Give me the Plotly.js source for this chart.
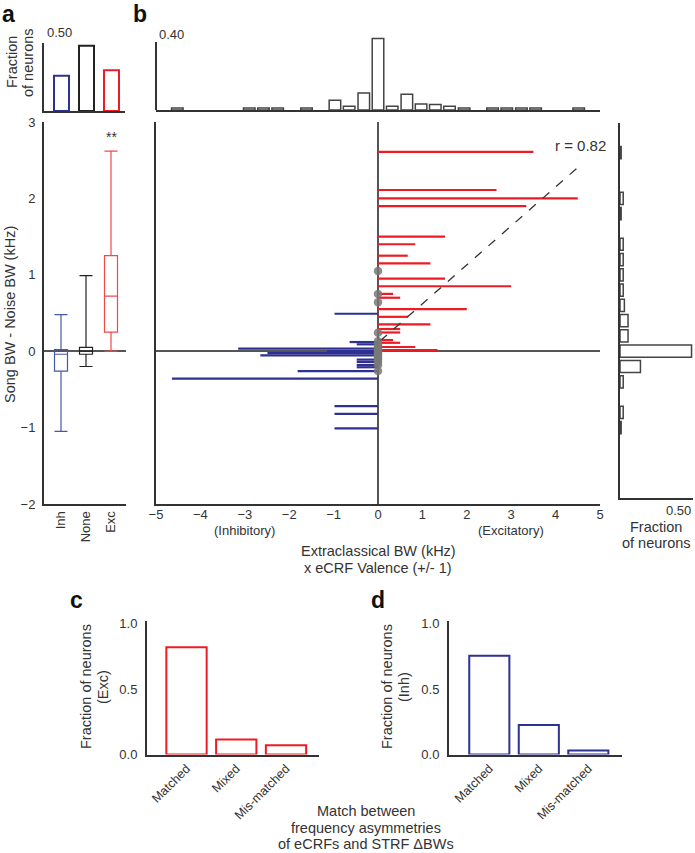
<!DOCTYPE html>
<html><head><meta charset="utf-8">
<script src="https://cdn.plot.ly/plotly-3.0.1.min.js"></script>
<style>html,body{margin:0;padding:0;background:#fff}#chart{width:695px;height:853px}</style>
</head><body><div id="chart"></div>
<script>
// ---------- data ----------
const groupLabels = ['Inh', 'None', 'Exc'];
const groupFraction = [0.26, 0.48, 0.30];
const boxLower  = [-1.05, -0.20, 0.00];
const boxQ1     = [-0.26, -0.04, 0.25];
const boxMedian = [-0.04,  0.00, 0.72];
const boxQ3     = [ 0.02,  0.05, 1.25];
const boxUpper  = [ 0.48,  0.99, 2.62];

const excBW       = [3.50, 2.67, 4.50, 3.34, 1.51, 0.84, 0.67, 1.18, 1.51, 3.00, 0.34, 0.50, 2.00, 0.68, 1.18, 0.50, 0.50, 0.34, 0.50, 0.84, 1.34];
const excSongDiff = [2.61, 2.11, 2.00, 1.90, 1.50, 1.40, 1.25, 1.15, 0.95, 0.85, 0.75, 0.70, 0.55, 0.45, 0.35, 0.29, 0.245, 0.145, 0.11, 0.055, 0.015];
const inhBW       = [-0.98, -0.64, -0.48, -3.15, -1.15, -2.49, -2.65, -0.48, -0.48, -0.48, -0.48, -1.81, -4.64, -0.98, -0.98, -0.98];
const inhSongDiff = [0.49, 0.12, 0.09, 0.035, 0.00, -0.025, -0.055, -0.11, -0.14, -0.18, -0.21, -0.26, -0.36, -0.72, -0.82, -1.01];
const noneSongDiff = [1.05, 0.75, 0.64, 0.24, 0.13, 0.09, 0.06, 0.03, 0.01, -0.01, -0.03, -0.05, -0.08, -0.11, -0.14, -0.18, -0.26];
const fitSlope = 0.51, fitIntercept = 0.11;
const fitXRange = [0.05, 4.5];
const rText = 'r = 0.82';

const topHistCenters  = [-4.52, -2.90, -2.58, -2.26, -1.61, -0.97, -0.65, -0.32, 0.00, 0.32, 0.65, 0.97, 1.29, 1.61, 1.94, 2.58, 2.90, 3.23, 3.55, 4.52];
const topHistFraction = [0.012, 0.012, 0.012, 0.012, 0.012, 0.057, 0.022, 0.10, 0.42, 0.022, 0.092, 0.035, 0.033, 0.022, 0.012, 0.012, 0.012, 0.012, 0.012, 0.012];

const rightHistCenters  = [2.6, 2.0, 1.8, 1.4, 1.2, 1.0, 0.8, 0.6, 0.4, 0.2, 0.0, -0.2, -0.4, -0.8, -1.0];
const rightHistFraction = [0.008, 0.022, 0.008, 0.022, 0.022, 0.022, 0.022, 0.03, 0.055, 0.055, 0.49, 0.14, 0.022, 0.022, 0.008];

const matchCategories = ['Matched', 'Mixed', 'Mis-matched'];
const excMatchFraction = [0.82, 0.115, 0.07];
const inhMatchFraction = [0.755, 0.225, 0.03];

// ---------- styling ----------
const W = 695, H = 853;
const fx = p => p / W, fy = p => 1 - p / H;
const FONT = 'Liberation Sans, Arial, Helvetica, sans-serif';
const RED = '#ed1c24', BLUE = '#2e3192', BOXRED = '#ef4a4a', BOXBLUE = '#4458a8', AX = '#333';
const TXT = '#333';

function baseAxis(extra) {
  return Object.assign({showgrid: false, zeroline: false, showline: true, linecolor: AX, linewidth: 2,
    ticks: '', showticklabels: false, fixedrange: true, tickfont: {family: FONT, size: 13, color: TXT}}, extra);
}

const traces = [];
// a: top bars
traces.push({type: 'bar', x: groupLabels, y: groupFraction, xaxis: 'x', yaxis: 'y', width: 0.6,
  marker: {color: 'white', line: {color: [BLUE, '#222', RED], width: 2}}, hoverinfo: 'skip'});
// a: boxes
const boxColors = [BOXBLUE, '#222', BOXRED];
groupLabels.forEach((g, i) => {
  traces.push({type: 'box', x: [g], q1: [boxQ1[i]], median: [boxMedian[i]], q3: [boxQ3[i]],
    lowerfence: [boxLower[i]], upperfence: [boxUpper[i]], xaxis: 'x2', yaxis: 'y2',
    width: 0.52, whiskerwidth: 1, boxpoints: false, fillcolor: 'rgba(0,0,0,0)',
    line: {color: boxColors[i], width: 1.2}, hoverinfo: 'skip'});
});
// b: top histogram
traces.push({type: 'bar', x: topHistCenters, y: topHistFraction, xaxis: 'x3', yaxis: 'y3', width: 0.26,
  marker: {color: 'white', line: {color: '#444', width: 1.5}}, hoverinfo: 'skip'});
// b: main horizontal bars
function segs(xs, ys) {
  const X = [], Y = [];
  xs.forEach((v, i) => { X.push(0, v, null); Y.push(ys[i], ys[i], null); });
  return {X, Y};
}
const rs = segs(excBW, excSongDiff), bs = segs(inhBW, inhSongDiff);
traces.push({type: 'scatter', mode: 'lines', x: rs.X, y: rs.Y, xaxis: 'x4', yaxis: 'y4',
  line: {color: RED, width: 2.2}, hoverinfo: 'skip'});
traces.push({type: 'scatter', mode: 'lines', x: bs.X, y: bs.Y, xaxis: 'x4', yaxis: 'y4',
  line: {color: BLUE, width: 2.2}, hoverinfo: 'skip'});
traces.push({type: 'scatter', mode: 'lines', x: fitXRange, y: fitXRange.map(v => fitIntercept + fitSlope * v),
  xaxis: 'x4', yaxis: 'y4', line: {color: '#333', width: 1.3, dash: 'dash'}, hoverinfo: 'skip'});
traces.push({type: 'scatter', mode: 'markers', x: noneSongDiff.map(() => 0), y: noneSongDiff, xaxis: 'x4', yaxis: 'y4',
  marker: {size: 8.5, color: 'rgba(120,120,120,0.85)'}, hoverinfo: 'skip', cliponaxis: false});
// b: right histogram
traces.push({type: 'bar', orientation: 'h', y: rightHistCenters, x: rightHistFraction, xaxis: 'x5', yaxis: 'y5',
  width: 0.16, cliponaxis: false, marker: {color: 'white', line: {color: '#444', width: 1.5}}, hoverinfo: 'skip'});
// c, d
traces.push({type: 'bar', x: matchCategories, y: excMatchFraction, xaxis: 'x6', yaxis: 'y6', width: 0.81,
  marker: {color: 'white', line: {color: RED, width: 2}}, hoverinfo: 'skip'});
traces.push({type: 'bar', x: matchCategories, y: inhMatchFraction, xaxis: 'x7', yaxis: 'y7', width: 0.81,
  marker: {color: 'white', line: {color: BLUE, width: 2}}, hoverinfo: 'skip'});

const topHistMax = 0.43;   // axis headroom so the tallest bin is not clipped
const layout = {
  width: W, height: H, margin: {l: 0, r: 0, t: 0, b: 0}, showlegend: false,
  paper_bgcolor: 'white', plot_bgcolor: 'white', font: {family: FONT, color: TXT},
  xaxis: baseAxis({domain: [fx(44), fx(125)], anchor: 'y', type: 'category', categoryarray: groupLabels, range: [-0.7, 2.54]}),
  yaxis: baseAxis({domain: [fy(111), fy(43)], anchor: 'x', range: [0, 0.5]}),
  xaxis2: baseAxis({domain: [fx(44), fx(126)], anchor: 'y2', type: 'category', categoryarray: groupLabels, range: [-0.68, 2.6],
    showticklabels: true, tickangle: -90}),
  yaxis2: baseAxis({domain: [fy(504), fy(122)], anchor: 'x2', range: [-2, 3], showticklabels: true,
    tickvals: [-2, -1, 0, 1, 2, 3], ticklabelstandoff: 4, zeroline: true, zerolinecolor: '#555', zerolinewidth: 1.5}),
  xaxis3: baseAxis({domain: [fx(156), fx(600)], anchor: 'y3', range: [-5, 5]}),
  yaxis3: baseAxis({domain: [fy(110), fy(110 - 170 * topHistMax)], anchor: 'x3', range: [0, topHistMax], showline: false}),
  xaxis4: baseAxis({domain: [fx(156), fx(600)], anchor: 'y4', range: [-5, 5], showticklabels: true, ticklabelstandoff: -3,
    tickvals: [-5, -4, -3, -2, -1, 0, 1, 2, 3, 4, 5], zeroline: true, zerolinecolor: '#555', zerolinewidth: 1.5}),
  yaxis4: baseAxis({domain: [fy(504), fy(122)], anchor: 'x4', range: [-2, 3], zeroline: true, zerolinecolor: '#555', zerolinewidth: 1.5}),
  xaxis5: baseAxis({domain: [fx(620), fx(693)], anchor: 'y5', range: [0, 0.5]}),
  yaxis5: baseAxis({domain: [fy(498), fy(123)], anchor: 'x5', range: [-1.921, 2.987]}),
  xaxis6: baseAxis({domain: [fx(147), fx(319)], anchor: 'y6', type: 'category', categoryarray: matchCategories,
    range: [-0.794, 2.663], showticklabels: true, tickangle: -45, tickfont: {family: FONT, size: 12.5, color: TXT}}),
  yaxis6: baseAxis({domain: [fy(754.5), fy(621)], anchor: 'x6', range: [0, 1.02], showticklabels: true,
    tickvals: [0, 0.5, 1], ticktext: ['0.0', '0.5', '1.0'], ticklabelstandoff: 5}),
  xaxis7: baseAxis({domain: [fx(449), fx(622)], anchor: 'y7', type: 'category', categoryarray: matchCategories,
    range: [-0.814, 2.68], showticklabels: true, tickangle: -45, tickfont: {family: FONT, size: 12.5, color: TXT}}),
  yaxis7: baseAxis({domain: [fy(754.5), fy(621)], anchor: 'x7', range: [0, 1.02], showticklabels: true,
    tickvals: [0, 0.5, 1], ticktext: ['0.0', '0.5', '1.0'], ticklabelstandoff: 5}),
  shapes: [{type: 'line', xref: 'x3 domain', yref: 'y3', x0: 0, x1: 0, y0: 0, y1: 0.4, line: {color: AX, width: 2}}],
  annotations: []
};

function ann(text, x, y, opts) {
  layout.annotations.push(Object.assign({text: text, x: fx(x), y: fy(y), xref: 'paper', yref: 'paper',
    showarrow: false, xanchor: 'center', yanchor: 'middle', font: {family: FONT, size: 14.5, color: TXT}}, opts || {}));
}
const bold = {family: 'Liberation Sans, Arial, sans-serif', size: 23, color: '#111'};
ann('<b>a</b>', 8, 14, {font: bold});
ann('<b>b</b>', 140, 14, {font: bold});
ann('<b>c</b>', 76, 600, {font: bold});
ann('<b>d</b>', 378, 600, {font: bold});
ann('Fraction', 12, 62, {textangle: -90});
ann('of neurons', 28, 62, {textangle: -90});
ann('0.50', 45, 33, {xanchor: 'left', font: {family: FONT, size: 13, color: TXT}});
ann('0.40', 157, 35, {xanchor: 'left', font: {family: FONT, size: 13, color: TXT}});
ann('Song BW - Noise BW (kHz)', 10, 315, {textangle: -90});
layout.annotations.push({text: '**', x: 2, y: 2.8, xref: 'x2', yref: 'y2', showarrow: false,
  font: {family: FONT, size: 14, color: TXT}});
ann(rText, 608, 145, {xanchor: 'right', font: {family: FONT, size: 15, color: TXT}});
layout.annotations.push({text: '(Inhibitory)', x: -3, y: fy(530), xref: 'x4', yref: 'paper', showarrow: false,
  font: {family: FONT, size: 13, color: TXT}});
layout.annotations.push({text: '(Excitatory)', x: 3, y: fy(530), xref: 'x4', yref: 'paper', showarrow: false,
  font: {family: FONT, size: 13, color: TXT}});
ann('Extraclassical BW (kHz)', 378, 551);
ann('x eCRF Valence (+/- 1)', 378, 568);
ann('0.50', 693, 511, {xanchor: 'right', font: {family: FONT, size: 13, color: TXT}});
ann('Fraction', 656, 527);
ann('of neurons', 656, 543);
ann('Fraction of neurons', 86, 687, {textangle: -90});
ann('(Exc)', 103, 687, {textangle: -90});
ann('Fraction of neurons', 387, 687, {textangle: -90});
ann('(Inh)', 404, 687, {textangle: -90});
ann('Match between', 366, 811);
ann('frequency asymmetries', 366, 828);
ann('of eCRFs and STRF \u0394BWs', 366, 844);

Plotly.newPlot('chart', traces, layout, {displayModeBar: false, staticPlot: true});
</script></body></html>
